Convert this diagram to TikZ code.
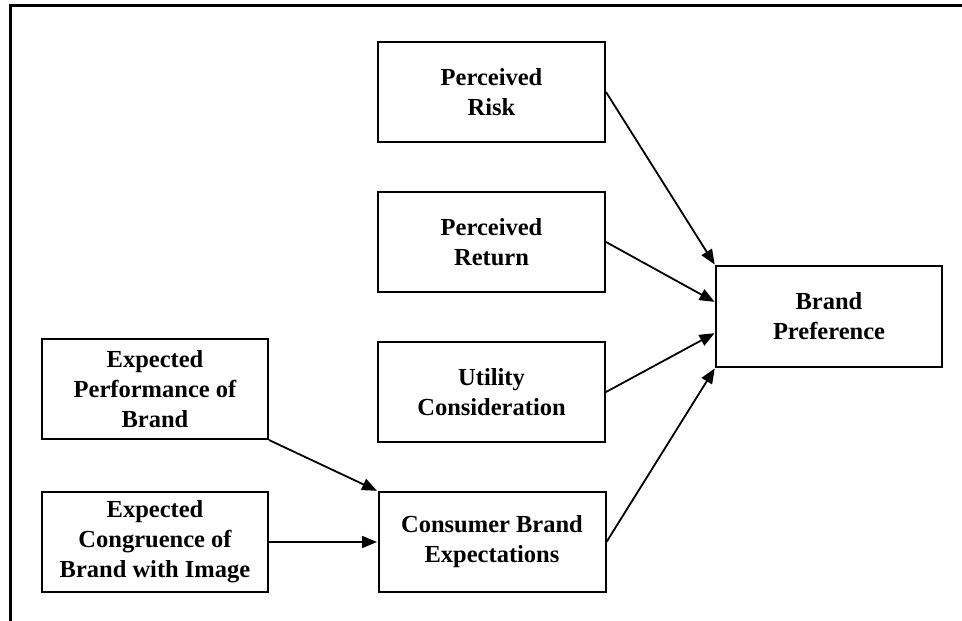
\documentclass[tikz,border=0pt]{standalone}
\usepackage{fontspec}
\setmainfont{Liberation Serif}
\usetikzlibrary{arrows.meta,calc}
\begin{document}
\begin{tikzpicture}[x=1pt,y=-1pt,
  box/.style={draw, line width=2pt, minimum width=227pt, minimum height=100pt,
    inner sep=0pt, align=center, font=\fontsize{24.5pt}{30pt}\selectfont\bfseries},
  link/.style={line width=1.8pt, -{Triangle[length=15pt,width=12pt]}, shorten >=0.5pt},
  frame/.style={line width=2.8pt, line cap=rect}]
  \useasboundingbox (0,0) rectangle (962,621);
  % open frame: top and left edges only
  \coordinate (fc) at (10.7,5.5);
  \coordinate (ftr) at (962,5.5);
  \coordinate (fbl) at (10.7,621);
  \draw[frame] (ftr) -- (fc) -- (fbl);
  % boxes
  \node[box] (risk) at (491.5,92) {Perceived\\Risk};
  \node[box] (ret) at (491.5,242) {Perceived\\Return};
  \node[box] (util) at (491.5,392) {Utility\\Consideration};
  \node[box] (cbe) at (492,542) {Consumer Brand\\Expectations};
  \node[box, minimum width=226pt, minimum height=101pt] (pref) at (829,316.5) {Brand\\Preference};
  \node[box, minimum width=226pt] (perf) at (155,389) {Expected\\Performance of\\Brand};
  \node[box, minimum width=226pt] (cong) at (155,542) {Expected\\Congruence of\\Brand with Image};
  % connectors
  \coordinate (prefA) at ($(pref.north west)!0.36!(pref.south west)$);
  \coordinate (prefB) at ($(pref.north west)!0.66!(pref.south west)$);
  \draw[link] (risk.east) -- (pref.north west);
  \draw[link] (ret.east) -- (prefA);
  \draw[link] (util.east) -- (prefB);
  \draw[link] (cbe.east) -- (pref.south west);
  \draw[link] (perf.south east) -- (cbe.north west);
  \draw[link] (cong.east) -- (cbe.west);
\end{tikzpicture}
\end{document}
